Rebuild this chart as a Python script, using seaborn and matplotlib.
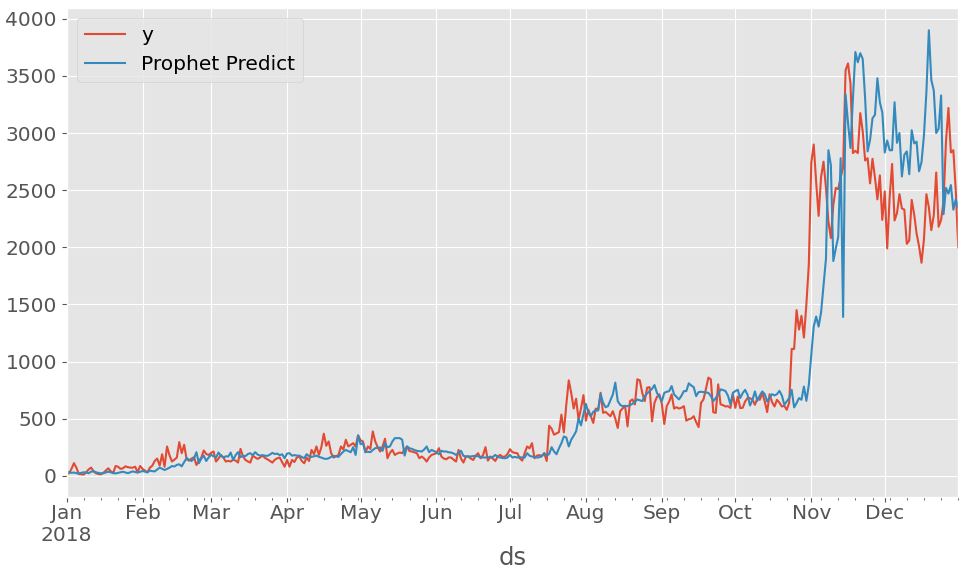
import pandas as pd
import seaborn as sns
import matplotlib.pyplot as plt
import matplotlib.dates as mdates
from matplotlib.ticker import FuncFormatter

plt.style.use("ggplot")

# ----------------------------------------------------------------------
# Daily values for 2018 (month by month)
# ----------------------------------------------------------------------
y_jan = [25, 20, 60, 110, 70, 15, 12, 10, 30, 55, 71, 40, 21, 15, 12, 25, 45, 65, 40, 21,
         85, 79, 60, 65, 82, 75, 71, 70, 79, 29, 85]
y_feb = [60, 45, 29, 70, 88, 130, 150, 88, 188, 79, 256, 180, 124, 140, 159, 294, 197, 271, 144, 132,
         150, 162, 94, 130, 159, 221, 190, 182]
y_mar = [200, 212, 124, 150, 182, 160, 124, 130, 124, 140, 132, 115, 235, 170, 138, 125, 115, 176, 160, 147,
         160, 176, 155, 144, 130, 115, 140, 153, 159, 120, 79]
y_apr = [138, 79, 138, 120, 160, 168, 130, 109, 159, 129, 226, 188, 256, 182, 250, 368, 262, 300, 197, 159,
         170, 182, 256, 230, 315, 256, 270, 285, 256, 353]
y_may = [310, 300, 206, 256, 235, 388, 300, 250, 212, 256, 324, 153, 200, 226, 182, 195, 203, 197, 230, 256,
         215, 212, 205, 197, 153, 168, 150, 124, 160, 182, 190]
y_jun = [197, 241, 168, 150, 144, 160, 159, 140, 124, 226, 150, 115, 168, 168, 150, 138, 175, 197, 153, 180,
         250, 132, 168, 150, 129, 168, 182, 165, 168, 190]
y_jul = [232, 206, 200, 197, 153, 132, 197, 256, 240, 285, 153, 176, 180, 174, 197, 129, 438, 412, 359, 370,
         382, 535, 379, 624, 835, 726, 588, 674, 491, 588, 706]
y_aug = [482, 579, 521, 462, 588, 579, 726, 550, 559, 540, 521, 565, 500, 418, 565, 590, 609, 432, 653, 668,
         624, 844, 835, 726, 653, 771, 776, 476, 638, 690, 712]
y_sep = [629, 453, 609, 650, 712, 588, 600, 588, 595, 609, 482, 495, 500, 521, 470, 426, 638, 668, 760, 859,
         844, 556, 550, 800, 624, 618, 606, 609, 594, 712]
y_oct = [594, 694, 592, 595, 650, 680, 679, 665, 621, 679, 665, 723, 650, 557, 714, 644, 606, 665, 640, 606,
         612, 577, 640, 1110, 1110, 1450, 1280, 1400, 1210, 1500, 1850]
y_nov = [2740, 2900, 2570, 2275, 2615, 2750, 2520, 2225, 2080, 2370, 2520, 2510, 2610, 2700, 3550, 3610, 3435,
         2825, 2845, 2825, 3175, 3015, 2760, 2780, 2560, 2775, 2610, 2420, 2630, 2240]
y_dec = [2490, 1990, 2440, 2730, 2235, 2300, 2465, 2340, 2330, 2030, 2060, 2415, 2290, 2120, 2010, 1865, 2070,
         2465, 2350, 2150, 2280, 2655, 2180, 2240, 2400, 2930, 3220, 2830, 2850, 2490, 2000]

pred_jan = [35, 30, 25, 28, 22, 20, 25, 30, 28, 22, 35, 38, 30, 25, 20, 22, 28, 35, 30, 25,
            20, 25, 30, 35, 28, 22, 30, 38, 32, 28, 35]
pred_feb = [41, 35, 30, 45, 40, 38, 55, 71, 60, 50, 60, 70, 85, 80, 95, 100, 82, 120, 153, 140,
            129, 150, 206, 109, 150, 176, 129, 160]
pred_mar = [182, 170, 159, 203, 175, 159, 170, 168, 203, 138, 180, 206, 162, 175, 171, 190, 197, 180, 206, 185,
            176, 180, 175, 174, 185, 200, 190, 194, 180, 188, 153]
pred_apr = [194, 197, 176, 180, 176, 176, 165, 153, 188, 170, 165, 170, 176, 165, 159, 150, 147, 153, 165, 174,
            170, 165, 190, 212, 226, 215, 206, 250, 182, 353]
pred_may = [276, 285, 206, 210, 206, 225, 241, 245, 247, 218, 285, 250, 256, 300, 329, 329, 329, 315, 176, 256,
            240, 235, 225, 218, 215, 212, 230, 256, 206, 226, 215]
pred_jun = [206, 188, 218, 212, 212, 205, 203, 195, 182, 200, 218, 174, 168, 170, 168, 172, 174, 170, 162, 160,
            159, 162, 159, 165, 182, 165, 159, 155, 153, 160]
pred_jul = [182, 159, 165, 159, 162, 159, 159, 197, 175, 168, 165, 159, 162, 170, 197, 176, 190, 250, 212, 188,
            240, 285, 344, 335, 256, 315, 350, 388, 500, 441, 541]
pred_aug = [629, 550, 521, 560, 571, 571, 712, 640, 600, 609, 660, 712, 815, 653, 620, 609, 612, 609, 618, 630,
            647, 668, 660, 653, 697, 720, 741, 760, 794, 726, 690]
pred_sep = [653, 726, 735, 741, 785, 712, 690, 668, 700, 741, 741, 809, 790, 776, 697, 732, 735, 732, 728, 726,
            697, 653, 680, 712, 756, 750, 741, 700, 624, 726]
pred_oct = [741, 752, 680, 723, 752, 708, 615, 665, 738, 656, 703, 738, 714, 650, 685, 714, 703, 714, 743, 703,
            621, 650, 680, 752, 598, 636, 680, 665, 781, 656, 796]
pred_nov = [1058, 1306, 1394, 1306, 1430, 1660, 1900, 2850, 2720, 1880, 1990, 2090, 2780, 1390, 3340, 3090, 2870,
            3300, 3710, 3620, 3700, 3650, 3300, 2840, 2940, 3130, 3160, 3480, 3270, 3180]
pred_dec = [2830, 2935, 2850, 2850, 3270, 2915, 3000, 2620, 2810, 2840, 2640, 3025, 2910, 2925, 2665, 2745, 2980,
            3360, 3900, 3465, 3375, 3000, 3040, 3330, 2290, 2520, 2470, 2545, 2330, 2420, 2345]

y_values = (y_jan + y_feb + y_mar + y_apr + y_may + y_jun +
            y_jul + y_aug + y_sep + y_oct + y_nov + y_dec)
pred_values = (pred_jan + pred_feb + pred_mar + pred_apr + pred_may + pred_jun +
               pred_jul + pred_aug + pred_sep + pred_oct + pred_nov + pred_dec)

ds = pd.date_range("2018-01-01", "2018-12-31", freq="D")
df = pd.DataFrame({"ds": ds, "y": y_values, "Prophet Predict": pred_values})

# ----------------------------------------------------------------------
# Plot
# ----------------------------------------------------------------------
fig, ax = plt.subplots(figsize=(9.65, 5.79), dpi=100)
fig.subplots_adjust(left=0.069, right=0.993, top=0.986, bottom=0.142)

sns.lineplot(data=df, x="ds", y="y", ax=ax, label="y", color="#E24A33", linewidth=1.5)
sns.lineplot(data=df, x="ds", y="Prophet Predict", ax=ax, label="Prophet Predict",
             color="#348ABD", linewidth=1.5)

ax.set_xlim(ds[0], ds[-1])
ax.xaxis.set_major_locator(mdates.MonthLocator())
ax.xaxis.set_minor_locator(mdates.WeekdayLocator(byweekday=mdates.MO))


def month_label(x, pos):
    d = mdates.num2date(x)
    return d.strftime("%b\n%Y") if d.month == 1 else d.strftime("%b")


ax.xaxis.set_major_formatter(FuncFormatter(month_label))
for lbl in ax.get_xticklabels():
    lbl.set_horizontalalignment("center")

ax.tick_params(axis="both", which="major", labelsize=14.5)
ax.tick_params(axis="x", which="major", pad=1.5)
ax.set_xlabel("ds", fontsize=17.5, labelpad=1)
ax.set_ylabel("")
ax.legend(loc="upper left", fontsize=14.5)

fig.savefig("out.png", dpi=100)
